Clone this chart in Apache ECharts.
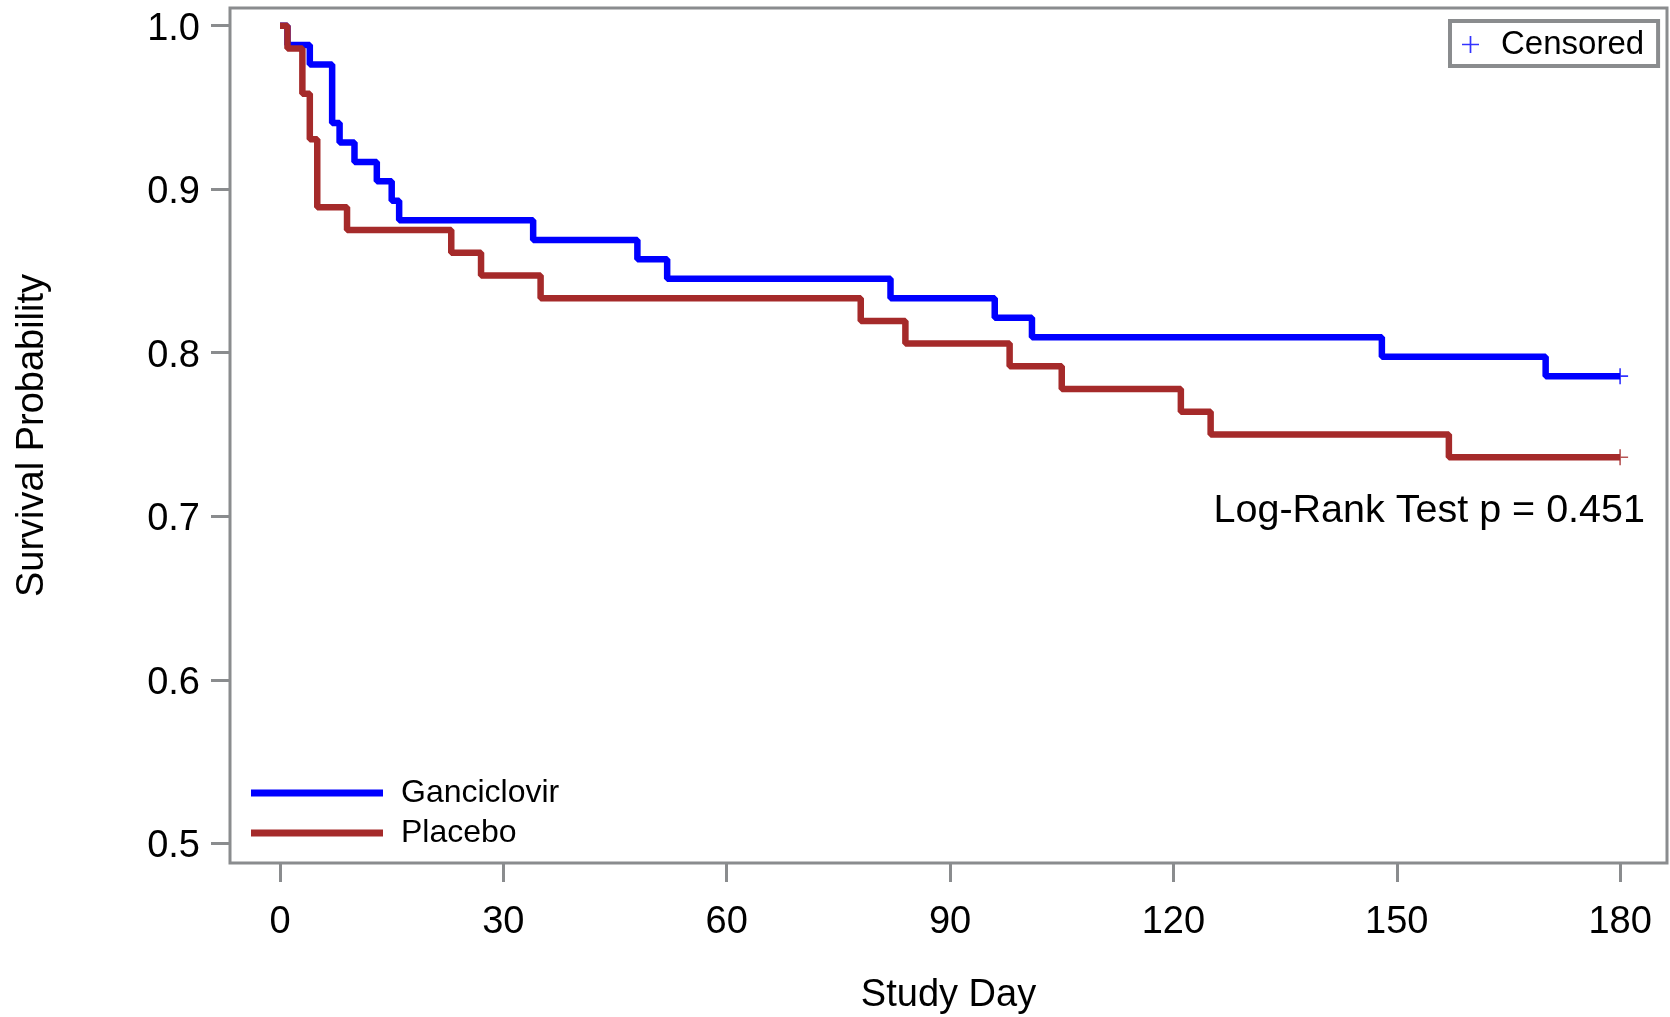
<!DOCTYPE html>
<html>
<head>
<meta charset="utf-8">
<script src="https://cdn.jsdelivr.net/npm/echarts@6/dist/echarts.min.js"></script>
<style>
  html, body { margin: 0; padding: 0; background: #fff; }
</style>
</head>
<body>
<div id="main" style="width: 1670px;height:1017px;"></div>

<script type="text/javascript">

    // Kaplan-Meier steps: day of event and survival after it
    var ganDays = [0, 1, 4, 7, 8, 10, 13, 15, 16, 34, 48, 52, 82, 96, 101, 148, 170, 180];
    var ganSurv = [1, 0.9881, 0.9762, 0.9405, 0.9286, 0.9167, 0.9048, 0.8929, 0.8810, 0.8690,
                   0.8571, 0.8452, 0.8333, 0.8214, 0.8095, 0.7976, 0.7857, 0.7857];
    var plaDays = [0, 1, 3, 4, 5, 9, 23, 27, 35, 78, 84, 98, 105, 121, 125, 157, 180];
    var plaSurv = [1, 0.9861, 0.9583, 0.9306, 0.8889, 0.8750, 0.8611, 0.8472, 0.8333, 0.8194,
                   0.8056, 0.7917, 0.7778, 0.7639, 0.7500, 0.7361, 0.7361];
    // censored at end of study
    var censorDays = [180, 180];
    var censorSurv = [0.7857, 0.7361];

    var xTicks = [0, 30, 60, 90, 120, 150, 180];
    var yTicks = [0.5, 0.6, 0.7, 0.8, 0.9, 1.0];

    var fontFam = "'Liberation Sans', Arial, sans-serif";
    var gray = '#8a8c8e';
    var plusPath = 'path://M-0.1,-1H0.1V1H-0.1Z M-1,-0.1H1V0.1H-1Z';

    function zip(a, b) {
        var out = [];
        for (var i = 0; i < a.length; i++) out.push([a[i], b[i]]);
        return out;
    }

    var ec = echarts.init(document.getElementById('main'));

    var option = {
        animation: false,
        textStyle: { fontFamily: fontFam },
        grid: {
            left: 230, top: 8, right: 3, bottom: 154,
            show: true, borderColor: gray, borderWidth: 3,
            outerBoundsMode: 'none'
        },
        xAxis: {
            type: 'value',
            min: -6.72,
            max: 186.3,
            name: 'Study Day',
            nameLocation: 'middle',
            nameGap: 114,
            nameTextStyle: { fontSize: 38, color: '#000', fontFamily: fontFam },
            axisLine: { show: false, onZero: false },
            splitLine: { show: false },
            axisTick: { show: true, length: 19, lineStyle: { color: gray, width: 3 }, customValues: xTicks },
            axisLabel: { fontSize: 38, color: '#000', margin: 41, customValues: xTicks, fontFamily: fontFam }
        },
        yAxis: {
            type: 'value',
            min: 0.488,
            max: 1.0108,
            name: 'Survival Probability',
            nameLocation: 'middle',
            nameGap: 178,
            nameTextStyle: { fontSize: 38, color: '#000', fontFamily: fontFam },
            axisLine: { show: false, onZero: false },
            splitLine: { show: false },
            axisTick: { show: true, length: 19, lineStyle: { color: gray, width: 3 }, customValues: yTicks },
            axisLabel: {
                color: '#000', margin: 30, customValues: yTicks,
                formatter: function (v) { return '{v|' + v.toFixed(1) + '}'; },
                rich: {
                    v: { fontSize: 38, color: '#000', fontFamily: fontFam, padding: [7, 0, 0, 0] }
                }
            }
        },
        legend: [{
            data: ['Ganciclovir', 'Placebo'],
            orient: 'vertical',
            left: 251,
            top: 777,
            padding: 0,
            icon: 'rect',
            itemWidth: 132,
            itemHeight: 7,
            itemGap: 8,
            textStyle: { fontSize: 32, color: '#000', fontFamily: fontFam, padding: [0, 0, 0, 13] }
        }, {
            data: ['Censored'],
            left: 1450,
            top: 21,
            padding: [7, 14, 5, 12],
            borderColor: gray,
            borderWidth: 4,
            itemWidth: 17,
            itemHeight: 18,
            textStyle: { fontSize: 33, color: '#000', fontFamily: fontFam, padding: [0, 0, 0, 17] }
        }],
        series: [{
            name: 'Ganciclovir',
            type: 'line',
            step: 'end',
            symbol: 'none',
            data: zip(ganDays, ganSurv),
            lineStyle: { color: '#0000ff', width: 6.5 },
            itemStyle: { color: '#0000ff' }
        }, {
            name: 'Placebo',
            type: 'line',
            step: 'end',
            symbol: 'none',
            data: zip(plaDays, plaSurv),
            lineStyle: { color: '#a52a2a', width: 6.5 },
            itemStyle: { color: '#a52a2a' }
        }, {
            name: 'Censored',
            type: 'scatter',
            symbol: plusPath,
            symbolSize: 16,
            itemStyle: { color: '#0000ff' },
            data: [
                { value: [censorDays[0], censorSurv[0]], itemStyle: { color: '#0000ff' } },
                { value: [censorDays[1], censorSurv[1]], itemStyle: { color: '#a52a2a' } }
            ]
        }],
        graphic: [{
            type: 'text',
            right: 25,
            top: 491,
            style: { text: 'Log-Rank Test p = 0.451', font: '39.5px ' + fontFam, fill: '#000' }
        }]
    };

    ec.setOption(option);
</script>
</body>
</html>
